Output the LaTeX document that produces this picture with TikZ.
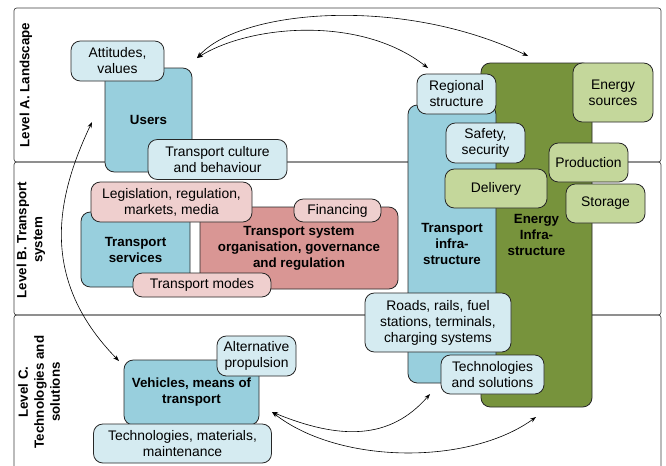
\documentclass[tikz,border=0pt]{standalone}
\usepackage{fontspec}
\setmainfont{Liberation Sans}
\usetikzlibrary{arrows.meta}

\definecolor{tealbox}{HTML}{98CFDD}
\definecolor{paleblue}{HTML}{D5EBF1}
\definecolor{salmon}{HTML}{D99694}
\definecolor{palepink}{HTML}{EFCFCE}
\definecolor{olive}{HTML}{77933C}
\definecolor{palegreen}{HTML}{C4D79B}

\tikzset{
  band/.style={draw=black!75, line width=0.5pt, rounded corners=2pt},
  box/.style={draw=black!85, line width=0.6pt, rounded corners=7pt, align=center, inner sep=1pt, outer sep=0pt},
  mainbox/.style={box, font=\bfseries},
  sz/.style 2 args={minimum width=#1*0.75pt, minimum height=#2*0.75pt},
  lvl/.style={rotate=90, align=center, font=\bfseries},
  link/.style={draw=black, line width=0.45pt, {Stealth[length=4.5pt,width=3.2pt]}-{Stealth[length=4.5pt,width=3.2pt]}}
}

\begin{document}
\begin{tikzpicture}[x=0.75pt,y=-0.75pt,font=\fontsize{10.4}{12}\selectfont]
\useasboundingbox (0,0) rectangle (666,465);
\fill[white] (0,0) rectangle (666,465);

\draw[band] (14,8) rectangle (661,162);
\draw[band] (14,162) rectangle (661,315);
\draw[band] (14,315) rectangle (661,472);
\node[lvl] (lvlA) at (26,85) {Level A. Landscape};
\node[lvl] (lvlB) at (31,240) {Level B. Transport\\system};
\node[lvl] (lvlC) at (39,392) {Level C.\\Technologies and\\solutions};

\node[mainbox, fill=olive, sz={111}{344}] (einfra) at (536.5,235) {Energy\\Infra-\\structure};
\node[mainbox, fill=tealbox, sz={88}{278}] (tinfra) at (452,244) {Transport\\infra-\\structure};
\node[box, fill=paleblue, sz={79}{40}] (regional) at (456.5,94) {Regional\\structure};
\node[box, fill=palegreen, sz={80}{59}] (esources) at (613,92.5) {Energy\\sources};
\node[box, fill=paleblue, sz={79}{40}] (safety) at (485.5,143) {Safety,\\security};
\node[box, fill=palegreen, sz={79}{39}] (production) at (588.5,162.5) {Production};
\node[box, fill=palegreen, sz={102}{39}] (delivery) at (496,188.5) {Delivery};
\node[box, fill=palegreen, sz={79}{39}] (storage) at (605.5,203.5) {Storage};
\node[box, fill=paleblue, sz={146}{59}] (roads) at (438,322.5) {Roads, rails, fuel\\stations, terminals,\\charging systems};
\node[box, fill=paleblue, sz={103}{39}] (techsol) at (492.5,374.5) {Technologies\\and solutions};

\node[mainbox, fill=tealbox, sz={87}{104}] (users) at (148.5,120) {Users};
\node[box, fill=paleblue, sz={93}{40}] (attitudes) at (117.5,61) {Attitudes,\\values};
\node[box, fill=paleblue, sz={139}{40}] (culture) at (217.5,159.5) {Transport culture\\and behaviour};
\node[mainbox, fill=tealbox, sz={109}{75}] (tservices) at (135.5,249.5) {Transport\\services};
\node[mainbox, fill=salmon, sz={198}{82}] (tsorg) at (299,248) {Transport system\\organisation, governance\\and regulation};
\node[box, fill=palepink, sz={161}{40}] (legis) at (171.5,202) {Legislation, regulation,\\markets, media};
\node[box, fill=palepink, sz={87}{23}] (financing) at (337.5,210.5) {Financing};
\node[box, fill=palepink, sz={138}{24}] (tmodes) at (202,285) {Transport modes};

\node[mainbox, fill=tealbox, sz={135}{65}] (vehicles) at (191.5,392.5) {Vehicles, means of\\transport};
\node[box, fill=paleblue, sz={79}{40}] (altprop) at (256.5,356) {Alternative\\propulsion};
\node[box, fill=paleblue, sz={178}{39}] (techmat) at (182.5,443.5) {Technologies, materials,\\maintenance};

\coordinate (usersTop) at (197,58);
\coordinate (usersLeft) at (92,122);
\coordinate (regionalTop) at (428,68);
\coordinate (energyTop) at (528,56);
\coordinate (vehiclesTop) at (119,361);
\coordinate (vehiclesRight) at (272,412);
\coordinate (tinfraBottom) at (430,394);
\coordinate (energyBottom) at (536,417);

\draw[link] (usersTop) .. controls (240,10) and (400,-5) .. (energyTop);
\draw[link] (usersTop) .. controls (250,25) and (360,15) .. (regionalTop);
\draw[link] (usersLeft) .. controls (55,200) and (40,280) .. (vehiclesTop);
\draw[link] (vehiclesRight) .. controls (340,440) and (390,440) .. (tinfraBottom);
\draw[link] (vehiclesRight) .. controls (340,465) and (470,465) .. (energyBottom);
\end{tikzpicture}
\end{document}
